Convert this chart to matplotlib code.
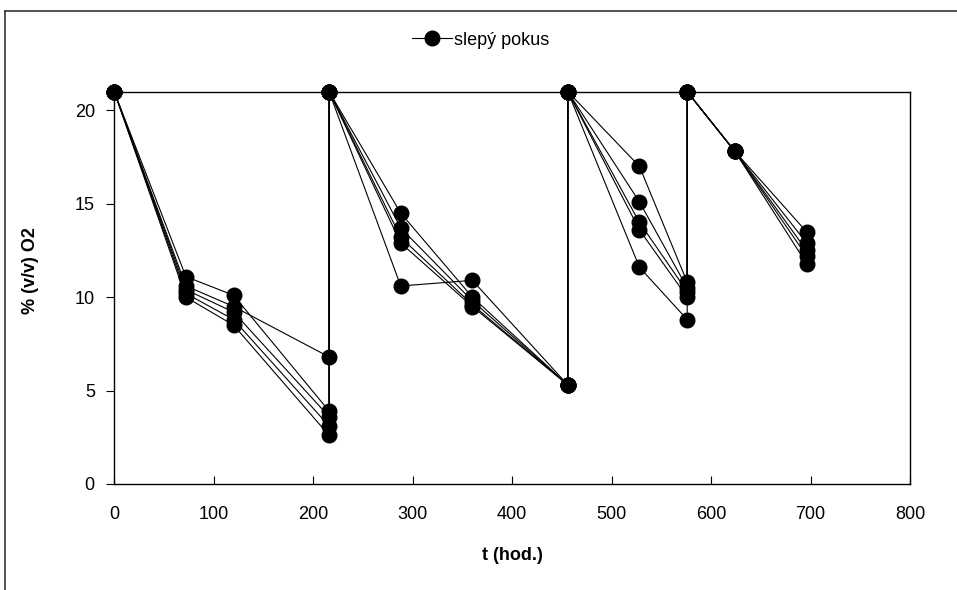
import numpy as np
import matplotlib
matplotlib.use("Agg")
import matplotlib.pyplot as plt
from matplotlib.lines import Line2D

plt.rcParams['font.family'] = ['Liberation Sans', 'DejaVu Sans']

# čas odběru (hod.)
t = [0, 72, 120, 216, 216, 288, 360, 456, 456, 528, 576, 576, 624, 696]

# % (v/v) O2 - jednotlivé opakování slepého pokusu
s1 = [21, 11.1, 10.1, 3.9, 21, 14.5, 10.0, 5.3, 21, 17.0, 10.8, 21, 17.8, 13.5]
s2 = [21, 10.6, 9.5, 6.8, 21, 13.7, 9.8, 5.3, 21, 15.1, 10.5, 21, 17.8, 12.9]
s3 = [21, 10.4, 9.2, 3.6, 21, 13.2, 9.6, 5.3, 21, 14.0, 10.3, 21, 17.8, 12.5]
s4 = [21, 10.2, 8.8, 3.1, 21, 12.9, 9.5, 5.3, 21, 13.6, 10.0, 21, 17.8, 12.2]
s5 = [21, 10.0, 8.5, 2.6, 21, 10.6, 10.9, 5.3, 21, 11.6, 8.8, 21, 17.8, 11.8]
series = [s1, s2, s3, s4, s5]

fig = plt.figure(figsize=(9.57, 5.90), dpi=100)
ax = fig.add_axes([0.1194, 0.1797, 0.8315, 0.6649])

for i, s in enumerate(series):
    ax.plot(t, s, color="black", lw=0.8, marker="o", ms=10.5,
            clip_on=False, zorder=3,
            label="slepý pokus" if i == 0 else None)

ax.set_xlim(0, 800)
ax.set_ylim(0, 21)
ax.set_xticks(np.arange(0, 801, 100))
ax.set_yticks(np.arange(0, 21, 5))
ax.tick_params(axis="x", direction="in", length=6, pad=16, labelsize=13)
ax.tick_params(axis="y", direction="out", length=6, pad=8, labelsize=13)
for sp in ax.spines.values():
    sp.set_linewidth(1.0)

ax.set_xlabel("t (hod.)", fontsize=13, fontweight="bold")
ax.set_ylabel("% (v/v) O2", fontsize=13, fontweight="bold")
ax.xaxis.set_label_coords(0.5, -0.16)
ax.yaxis.set_label_coords(-0.095, 0.545)

fig.legend(loc="center", bbox_to_anchor=(0.502, 0.932), frameon=False,
           fontsize=13, handlelength=2.2, handletextpad=0.1)

# rámeček grafu (přesahuje okraj obrázku)
fig.add_artist(Line2D([5 / 957, 5 / 957], [0, 1 - 11 / 590],
                      transform=fig.transFigure, color="#333333", lw=1.2))
fig.add_artist(Line2D([5 / 957, 1], [1 - 11 / 590, 1 - 11 / 590],
                      transform=fig.transFigure, color="#333333", lw=1.2))

fig.savefig("out.png", dpi=100)
